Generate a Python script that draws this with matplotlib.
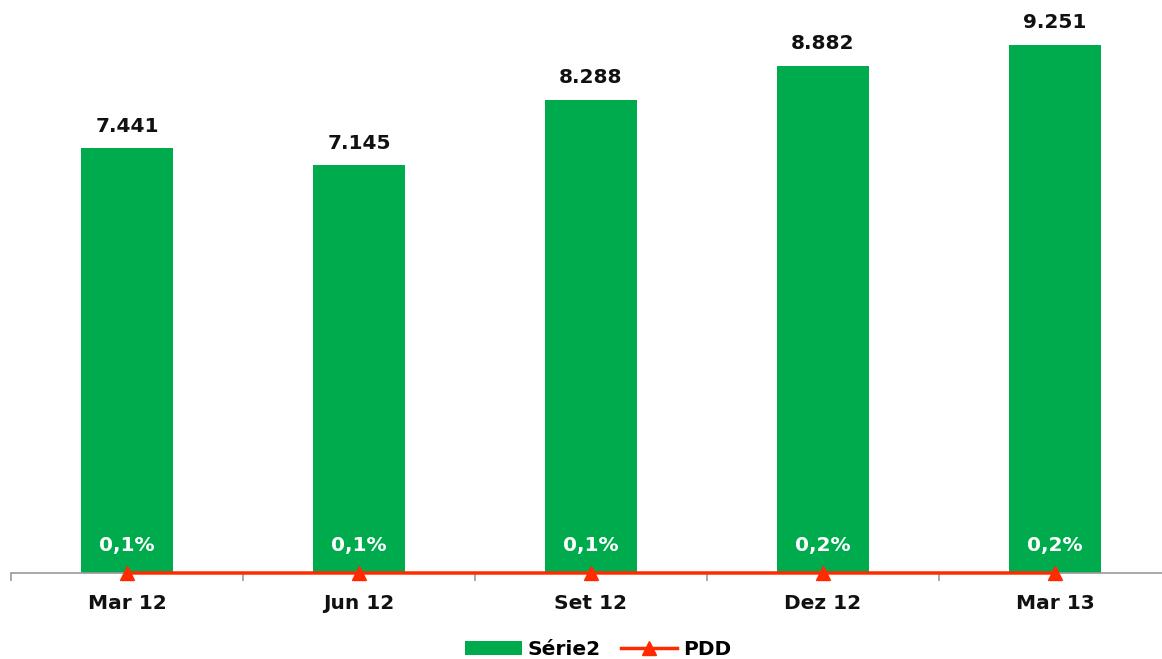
import matplotlib.pyplot as plt
import numpy as np

# data
categories = ["Mar 12", "Jun 12", "Set 12", "Dez 12", "Mar 13"]
serie2 = [7441, 7145, 8288, 8882, 9251]
pdd = [0.1, 0.1, 0.1, 0.2, 0.2]  # percent

green = "#00AB4E"
red = "#FF2A00"

plt.rcParams['font.family'] = ['DejaVu Sans']

fig = plt.figure(figsize=(11.62, 6.59), dpi=100)
# axis continues past the right edge of the picture, like the original
ax = fig.add_axes([11 / 1162, 86 / 659, 1160 / 1162, 571 / 659])

x = np.arange(len(categories))
bars = ax.bar(x, serie2, width=0.40, color=green, label="Série2", zorder=2)
line, = ax.plot(x, pdd, color=red, lw=2.5, marker="^", markersize=10,
                label="PDD", zorder=3, clip_on=False)

for xi, v in zip(x, serie2):
    s = f"{v:,}".replace(",", ".")
    ax.annotate(s, (xi, v), xytext=(0, 9), textcoords="offset points",
                ha="center", va="bottom", fontsize=14.5, fontweight="bold",
                color="#111111")

for xi, p in zip(x, pdd):
    s = f"{p:.1f}%".replace(".", ",")
    ax.annotate(s, (xi, p), xytext=(0, 20), textcoords="offset points",
                ha="center", va="center", fontsize=14.5, fontweight="bold",
                color="white", zorder=4)

ax.set_xlim(-0.5, 4.5)
ax.set_ylim(0, 10000)
ax.set_yticks([])
for side in ["left", "right", "top"]:
    ax.spines[side].set_visible(False)
ax.spines["bottom"].set_color("#9a9a9a")
ax.spines["bottom"].set_linewidth(1.2)

ax.set_xticks(x)
ax.set_xticklabels(categories, fontsize=14.5, fontweight="bold", color="#111111")
ax.tick_params(axis="x", which="major", length=0, pad=15)
ax.set_xticks(np.arange(-0.5, 5, 1), minor=True)
ax.tick_params(axis="x", which="minor", length=6, width=1.2, color="#9a9a9a", direction="out")

leg = fig.legend(handles=[bars, line], loc="center", bbox_to_anchor=(0.515, 0.014),
                 ncol=2, frameon=False, handlelength=2.8,
                 columnspacing=1.0, handletextpad=0.3, prop={"weight": "bold", "size": 14.5})

fig.savefig("out.png", dpi=100)
